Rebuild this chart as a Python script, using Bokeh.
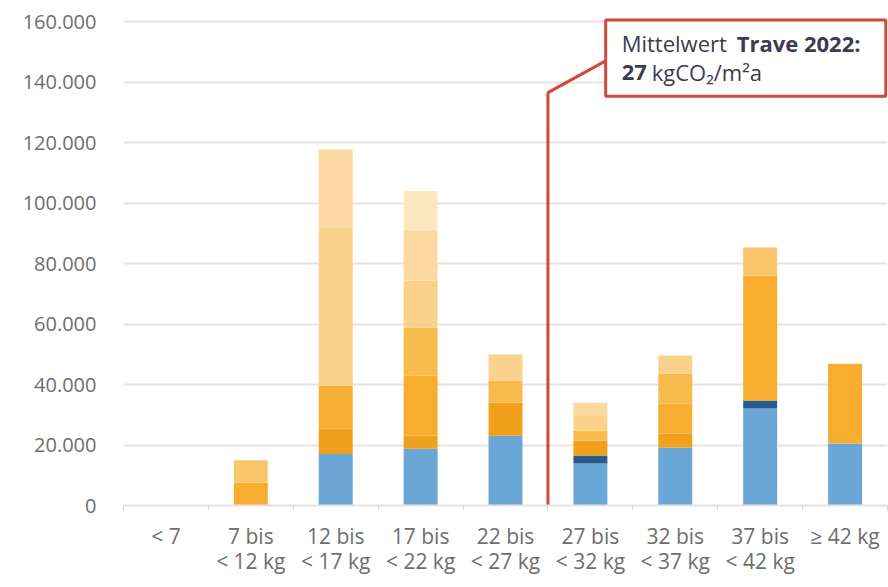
from bokeh.plotting import figure
from bokeh.models import Range1d, LinearAxis, FixedTicker, Label, ColumnDataSource
from bokeh.embed import file_html
from bokeh.resources import INLINE

# ---- data ----
line1 = ["< 7", "7 bis", "12 bis", "17 bis", "22 bis", "27 bis", "32 bis", "37 bis", "≥ 42 kg"]
line2 = ["", "< 12 kg", "< 17 kg", "< 22 kg", "< 27 kg", "< 32 kg", "< 37 kg", "< 42 kg", ""]
bin_edges = [7, 12, 17, 22, 27, 32, 37, 42]
mean_value = 27

blue      = [0, 0, 17000, 18800, 23100, 13900, 19200, 32100, 20500]
darkblue  = [0, 0, 0, 0, 0, 2600, 0, 2600, 0]
orange1   = [0, 0, 8500, 4300, 10900, 5000, 4600, 0, 0]
orange2   = [0, 7500, 14200, 19900, 0, 0, 9900, 41300, 26400]
orange3   = [0, 0, 0, 15800, 7300, 3300, 9900, 0, 0]
orange4   = [0, 7500, 0, 0, 0, 0, 0, 9300, 0]
orange5   = [0, 0, 52300, 15600, 8600, 5000, 6000, 0, 0]
orange6   = [0, 0, 25700, 16600, 0, 4200, 0, 0, 0]
orange7   = [0, 0, 0, 13000, 0, 0, 0, 0, 0]

y_ticks = [0, 20000, 40000, 60000, 80000, 100000, 120000, 140000, 160000]
y_tick_labels = ["0", "20.000", "40.000", "60.000", "80.000", "100.000", "120.000", "140.000", "160.000"]

series = ["blue", "darkblue", "orange1", "orange2", "orange3", "orange4", "orange5", "orange6", "orange7"]
colors = ["#6aa6d6", "#2b5a8c", "#f1a01c", "#f6ad30", "#f8bb4e", "#f9c66c", "#fbd28c", "#fcd9a0", "#fde7c3"]

xs = list(range(len(line1)))
src = ColumnDataSource(dict(x=xs, blue=blue, darkblue=darkblue, orange1=orange1, orange2=orange2,
                            orange3=orange3, orange4=orange4, orange5=orange5, orange6=orange6,
                            orange7=orange7))

FONT = "Open Sans"
GRAY = "#6e6e6e"
GRID = "#e9e1e1"
RED = "#cf4a3a"

p = figure(width=888, height=587, x_range=Range1d(-0.5, len(line1) - 0.5), y_range=Range1d(0, 164000),
           output_backend="svg", toolbar_location=None, x_axis_location=None,
           min_border_left=123, min_border_right=1, min_border_top=9, min_border_bottom=82)
p.outline_line_color = None
p.background_fill_color = "white"
p.border_fill_color = "white"

p.vbar_stack(series, x="x", width=0.4, color=colors, line_color=None, source=src)

# y axis
yax = p.yaxis[0]
yax.ticker = FixedTicker(ticks=y_ticks)
yax.major_label_overrides = {t: l for t, l in zip(y_ticks, y_tick_labels)}
yax.axis_line_color = None
yax.major_tick_line_color = None
yax.minor_tick_line_color = None
yax.major_label_standoff = 21
yax.major_label_text_font = FONT
yax.major_label_text_font_size = "20px"
yax.major_label_text_color = GRAY

p.ygrid.ticker = FixedTicker(ticks=y_ticks)
p.ygrid.grid_line_color = GRID
p.ygrid.grid_line_width = 2
p.xgrid.grid_line_color = None

# x axes (two label lines)
boundaries = [i - 0.5 for i in range(len(line1) + 1)]
ax1 = LinearAxis(ticker=FixedTicker(ticks=xs, minor_ticks=boundaries))
ax1.major_label_overrides = {i: t for i, t in enumerate(line1)}
ax1.axis_line_color = GRID
ax1.axis_line_width = 2
ax1.major_tick_line_color = None
ax1.major_tick_out = 0
ax1.minor_tick_line_color = "#ddd6d6"
ax1.minor_tick_out = 5
ax1.minor_tick_in = 0
ax1.major_label_standoff = 11
ax1.major_label_text_font = FONT
ax1.major_label_text_font_size = "21px"
ax1.major_label_text_color = GRAY
p.add_layout(ax1, "below")

ax2 = LinearAxis(ticker=FixedTicker(ticks=xs))
ax2.major_label_overrides = {i: t for i, t in enumerate(line2)}
ax2.axis_line_color = None
ax2.major_tick_line_color = None
ax2.minor_tick_line_color = None
ax2.major_tick_out = 0
ax2.major_label_standoff = -6
ax2.major_label_text_font = FONT
ax2.major_label_text_font_size = "21px"
ax2.major_label_text_color = GRAY
p.add_layout(ax2, "below")

# mean line and annotation box
mean_x = bin_edges.index(mean_value) + 0.5
box_left, box_right, box_top, box_bottom = 5.18, 8.48, 160500, 135300
p.line([mean_x, mean_x, box_left], [0, 136500, 147000], line_color=RED, line_width=3)
p.quad(left=[box_left], right=[box_right], top=[box_top], bottom=[box_bottom],
       fill_color="white", line_color=RED, line_width=3)

TXT = "#3d3b4f"
def lab(text, y, dx, bold=False):
    p.add_layout(Label(x=box_left, y=y, x_offset=dx, text=text, text_baseline="middle",
                       text_font=FONT, text_font_size="22px", text_color=TXT,
                       text_font_style="bold" if bold else "normal"))

lab("Mittelwert", 152900, 16)
lab("Trave 2022:", 152900, 131, bold=True)
lab("27", 143300, 16, bold=True)
lab("kgCO₂/m²a", 143300, 46)

open("out.html", "w").write(file_html(p, INLINE))
